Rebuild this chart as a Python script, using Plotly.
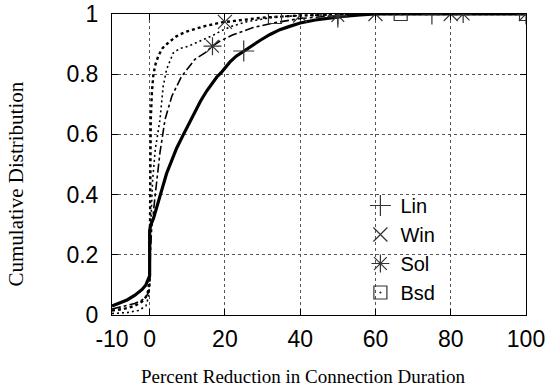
import plotly.graph_objects as go

# ---- data ----
lin_x = [-10, -8, -6, -4, -2, -1, -0.3, 0, 0, 0.3, 1, 2, 2.75, 4.5, 6.3, 7.2, 9, 11.6, 13.5, 15.2, 17.8, 19, 21.3, 23, 25, 27, 29.3, 32, 34.6, 37, 40, 44, 48, 52, 56, 60, 70, 80, 100]
lin_y = [0.03, 0.04, 0.05, 0.065, 0.085, 0.1, 0.118, 0.13, 0.28, 0.3, 0.32, 0.36, 0.395, 0.47, 0.53, 0.555, 0.6, 0.665, 0.71, 0.745, 0.79, 0.805, 0.84, 0.86, 0.877, 0.895, 0.912, 0.932, 0.948, 0.958, 0.97, 0.98, 0.987, 0.993, 0.997, 1.0, 1, 1, 1]

win_x = [-10, -7, -4, -2, -1, -0.4, 0, 0.1, 0.3, 0.6, 1, 1.6, 2.3, 3.3, 5, 7, 9.4, 12, 14.7, 19.1, 25, 30, 40, 50, 60, 100]
win_y = [0.015, 0.02, 0.03, 0.045, 0.06, 0.08, 0.12, 0.4, 0.65, 0.74, 0.8, 0.835, 0.86, 0.885, 0.905, 0.925, 0.94, 0.95, 0.96, 0.972, 0.982, 0.988, 0.995, 0.998, 1, 1]

sol_x = [-10, -7, -4, -2, -1, -0.3, 0, 0.2, 0.5, 1.4, 2.3, 2.75, 4.1, 5.9, 8.5, 12, 14.7, 16.7, 18.7, 22, 27.5, 32.8, 40, 50, 60, 83.3, 100]
sol_y = [0.02, 0.028, 0.038, 0.05, 0.06, 0.075, 0.09, 0.2, 0.28, 0.39, 0.494, 0.54, 0.65, 0.727, 0.793, 0.849, 0.871, 0.893, 0.91, 0.93, 0.955, 0.97, 0.985, 0.995, 1, 1, 1]

bsd_x = [-10, -6, -3, -1, -0.3, 0, 0.3, 0.8, 1.5, 2.2, 2.75, 3.6, 4.5, 6.3, 8, 10.3, 12.5, 14.7, 17, 19.1, 22, 26, 33.3, 40, 50, 66.7, 100]
bsd_y = [0.005, 0.008, 0.015, 0.03, 0.06, 0.1, 0.3, 0.45, 0.55, 0.61, 0.65, 0.76, 0.816, 0.871, 0.885, 0.893, 0.905, 0.915, 0.93, 0.945, 0.96, 0.975, 0.99, 0.995, 0.998, 1, 1]

# sampled marker points
lin_mx = [25, 50, 75, 100]
lin_my = [0.877, 0.99, 1, 1]
win_mx = [20, 40, 60, 80, 100]
win_my = [0.974, 0.995, 1, 1, 1]
sol_mx = [16.7, 50, 83.3]
sol_my = [0.893, 0.995, 1]
bsd_mx = [33.3, 66.7, 100]
bsd_my = [0.99, 1, 1]

names = ["Lin", "Win", "Sol", "Bsd"]
x_ticks = [-10, 0, 20, 40, 60, 80, 100]
y_ticks = [0, 0.2, 0.4, 0.6, 0.8, 1]

series = [
    (lin_x, lin_y, lin_mx, lin_my, "solid", 3.2, "cross-thin-open", 15),
    (win_x, win_y, win_mx, win_my, "dot", 2.4, "x-thin-open", 14),
    (sol_x, sol_y, sol_mx, sol_my, "dashdot", 1.6, "asterisk-open", 15),
    (bsd_x, bsd_y, bsd_mx, bsd_my, "2px,3px", 1.6, "square-open-dot", 13),
]

fig = go.Figure()
for name, (sx, sy, mx, my, dash, w, sym, ms) in zip(names, series):
    fig.add_trace(go.Scatter(x=sx, y=sy, mode="lines", showlegend=False,
                             line=dict(color="black", width=w, dash=dash)))
for name, (sx, sy, mx, my, dash, w, sym, ms) in zip(names, series):
    fig.add_trace(go.Scatter(x=mx, y=my, mode="markers", name=name,
                             marker=dict(symbol=sym, size=ms, color="#333333",
                                         line=dict(color="#333333", width=1.2))))

axis_common = dict(
    showline=True, linecolor="black", linewidth=1, mirror="ticks",
    ticks="inside", ticklen=6, tickcolor="black",
    showgrid=True, gridcolor="#555555", griddash="dot", gridwidth=1,
    zeroline=False, automargin=False,
    tickfont=dict(family="Liberation Sans, Arial", size=23, color="black"),
)

fig.update_xaxes(range=[-10, 100], tickvals=x_ticks, ticktext=[str(v) for v in x_ticks],
                 ticklabelstandoff=3, **axis_common)
fig.update_yaxes(range=[0, 1], tickvals=y_ticks, ticktext=["0", "0.2", "0.4", "0.6", "0.8", "1"],
                 ticklabelstandoff=8, **axis_common)

fig.add_annotation(text="Percent Reduction in Connection Duration", xref="paper", yref="paper",
                   x=0.5, y=-0.204, yanchor="middle", xanchor="center", showarrow=False,
                   font=dict(family="Liberation Serif, Times New Roman", size=19, color="black"),
                   xshift=-16)
fig.add_annotation(text="Cumulative Distribution", xref="paper", yref="paper",
                   x=0, y=0.5, xanchor="center", yanchor="middle", textangle=-90, showarrow=False,
                   xshift=-97, yshift=-20,
                   font=dict(family="Liberation Serif, Times New Roman", size=21, color="black"))

fig.update_layout(
    width=549, height=391,
    margin=dict(l=112, r=23, t=14, b=76, autoexpand=False),
    paper_bgcolor="white", plot_bgcolor="white",
    legend=dict(x=0.6, y=0.01, xanchor="left", yanchor="bottom",
                font=dict(family="Liberation Sans, Arial", size=20, color="black"),
                bgcolor="rgba(0,0,0,0)", tracegroupgap=0, itemwidth=30),
)

fig.write_html("out.html", config={"displayModeBar": False},
               post_script="document.body.style.margin='0';")
